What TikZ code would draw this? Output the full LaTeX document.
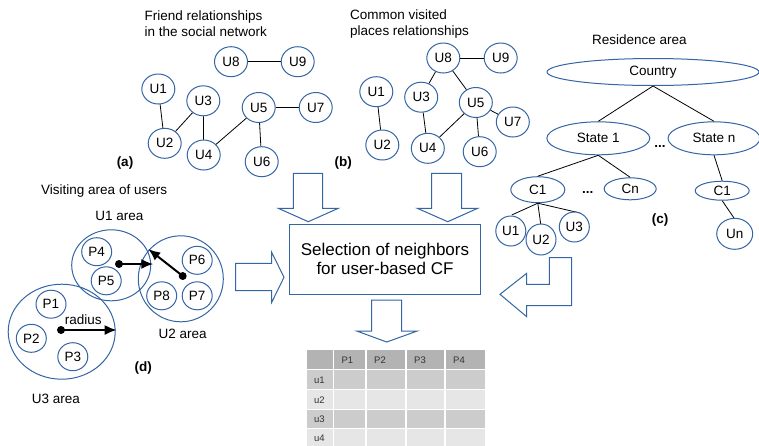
\documentclass[tikz,border=0pt]{standalone}
\usepackage{fontspec}
\setmainfont{Liberation Sans}
\usetikzlibrary{shapes.geometric,arrows.meta}
\definecolor{lblue}{RGB}{52,101,164}
\definecolor{thdr}{RGB}{179,179,179}
\definecolor{tdark}{RGB}{204,204,204}
\definecolor{tlight}{RGB}{230,230,230}
\definecolor{ttext}{RGB}{51,51,51}
\begin{document}
\begin{tikzpicture}[x=1pt,y=-1pt,
  every node/.style={font=\fontsize{13.5}{16}\selectfont},
  usr/.style={ellipse,draw=lblue,line width=1pt,fill=white,inner sep=0pt,minimum width=33pt,minimum height=30pt},
  plc/.style={ellipse,draw=lblue,line width=1pt,fill=white,inner sep=0pt,minimum width=30pt,minimum height=28pt},
  area/.style={ellipse,draw=lblue,line width=1pt,inner sep=0pt},
  reg/.style={ellipse,draw=lblue,line width=1pt,fill=white,inner sep=0pt},
  edge/.style={draw=black,line width=0.8pt},
  blockarrow/.style={draw=lblue,line width=1pt,fill=white,line join=miter},
  lbl/.style={font=\fontsize{13.5}{16}\selectfont\bfseries},
  dotn/.style={circle,fill=black,inner sep=0pt,minimum size=8pt},
  radarrow/.style={line width=2pt,-{Latex[length=12pt,width=10pt]}},
  tcell/.style={draw=white,line width=1.5pt},
  ttxt/.style={font=\fontsize{9.5}{11}\selectfont,text=ttext,anchor=west,inner sep=0pt}
]
\useasboundingbox (0,0) rectangle (759,445);
\clip (0,0) rectangle (759,445);

% ---------- (a) ----------
\node[anchor=west,align=left] (ta) at (141,24) {Friend relationships\\in the social network};
\node[usr] (a8) at (231,61.7) {U8};
\node[usr] (a9) at (297.7,61.7) {U9};
\node[usr] (a1) at (158.3,89) {U1};
\node[usr] (a3) at (203.3,100.8) {U3};
\node[usr] (a5) at (258.7,107.5) {U5};
\node[usr] (a7) at (315.7,107.5) {U7};
\node[usr] (a2) at (164.7,143.3) {U2};
\node[usr] (a4) at (203.7,155) {U4};
\node[usr] (a6) at (261.7,161.7) {U6};
\node[lbl] (la) at (125,162.7) {(a)};
\draw[edge] (a8) -- (a9);
\draw[edge] (a1) -- (a2);
\draw[edge] (a2) -- (a3);
\draw[edge] (a3) -- (a4);
\draw[edge] (a4) -- (a5);
\draw[edge] (a5) -- (a7);
\draw[edge] (a5) -- (a6);

% ---------- (b) ----------
\node[anchor=west,align=left] (tb) at (346.7,24) {Common visited\\places relationships};
\node[usr] (b8) at (443.3,58) {U8};
\node[usr] (b9) at (500.7,58) {U9};
\node[usr] (b1) at (376.3,91.7) {U1};
\node[usr] (b3) at (421.2,97.2) {U3};
\node[usr] (b5) at (475.8,102.5) {U5};
\node[usr] (b7) at (512.8,122) {U7};
\node[usr] (b2) at (382.3,145) {U2};
\node[usr] (b4) at (427.8,148.3) {U4};
\node[usr] (b6) at (479.7,151.7) {U6};
\node[lbl] (lb) at (343.3,162.7) {(b)};
\draw[edge] (b8) -- (b9);
\draw[edge] (b8) -- (b3);
\draw[edge] (b8) -- (b5);
\draw[edge] (b1) -- (b2);
\draw[edge] (b3) -- (b4);
\draw[edge] (b4) -- (b5);
\draw[edge] (b5) -- (b7);
\draw[edge] (b5) -- (b6);

% ---------- (c) ----------
\node (tc) at (639.3,40) {Residence area};
\node[reg,minimum width=212pt,minimum height=27pt] (cty) at (653,72) {Country};
\node[reg,minimum width=103pt,minimum height=33pt] (st1) at (598.3,138.3) {State 1};
\node[reg,minimum width=92pt,minimum height=33pt] (stn) at (714,138.3) {State n};
\node[lbl] (dd1) at (660,146) {...};
\node[reg,minimum width=54pt,minimum height=26pt] (c1) at (537.8,189.7) {C1};
\node[lbl] (dd2) at (587.7,192) {...};
\node[reg,minimum width=52pt,minimum height=22pt] (cn) at (630.2,188.8) {Cn};
\node[reg,minimum width=54pt,minimum height=19pt] (c1r) at (722.2,190.7) {C1};
\node[lbl] (lc) at (660,220) {(c)};
\draw[edge] (cty.south) -- (st1.north);
\draw[edge] (cty.south) -- (stn.north);
\draw[edge] (st1.south) -- (c1.north);
\draw[edge] (st1.south) -- (cn.north);
\draw[edge] (stn.south) -- (c1r.north);
\draw[edge] (c1.south) -- (511.7,215) coordinate (e1);
\draw[edge] (c1.south) -- (540.7,224) coordinate (e2);
\draw[edge] (c1.south) -- (580,213) coordinate (e3);
\draw[edge] (c1r.south) -- (734,218) coordinate (e4);
\node[usr,minimum width=30pt] (cu1) at (510.8,231) {U1};
\node[usr,minimum width=30pt,minimum height=31pt] (cu2) at (541,239.5) {U2};
\node[usr,minimum width=30pt] (cu3) at (574.3,227) {U3};
\node[usr,minimum width=36pt,minimum height=31pt] (cun) at (734.7,233.8) {Un};

% ---------- (d) ----------
\node[anchor=west] (td) at (37.7,190.7) {Visiting area of users};
\node (tu1) at (119.3,215.7) {U1 area};
\node[area,minimum width=107pt,minimum height=95pt] (ar3) at (61.7,331.7) {};
\node[area,minimum width=79pt,minimum height=71pt] (ar1) at (111.2,265.3) {};
\node[area,minimum width=85pt,minimum height=86pt] (ar2) at (180.8,278.8) {};
\node[plc] (p4) at (96.7,251.7) {P4};
\node[plc] (p5) at (106.2,280.8) {P5};
\node[plc] (p6) at (197.2,260.3) {P6};
\node[plc] (p8) at (161.7,295.8) {P8};
\node[plc] (p7) at (197.2,295.8) {P7};
\node[plc] (p1) at (51,304.2) {P1};
\node[plc] (p2) at (31.3,338.3) {P2};
\node[plc] (p3) at (72.8,356.7) {P3};
\node (trad) at (83.3,319.3) {radius};
\node[dotn] (d1) at (119,264) {};
\node[dotn] (d2) at (182.7,276) {};
\node[dotn] (d3) at (61,330) {};
\coordinate (r1) at (153.3,264);
\coordinate (r2) at (148.3,249);
\coordinate (r3) at (116.7,330);
\draw[radarrow] (d1.center) -- (r1);
\draw[radarrow] (d2.center) -- (r2);
\draw[radarrow] (d3.center) -- (r3);
\node (tu2) at (182.7,334.3) {U2 area};
\node[lbl] (ld) at (143.3,367.7) {(d)};
\node (tu3) at (56,399) {U3 area};

% ---------- centre box and block arrows ----------
\node[draw=lblue,line width=1pt,minimum width=191.4pt,minimum height=69.7pt,align=center,
  font=\fontsize{17}{18.6}\selectfont] (sel) at (385,259.2) {Selection of neighbors\\for user-based CF};
\draw[blockarrow] (293.3,173.3) -- (322.7,173.3) -- (322.7,208.3) -- (338.3,208.3) -- (308.3,221.7) -- (278.3,208.3) -- (293.3,208.3) -- cycle;
\draw[blockarrow] (431.7,173.3) -- (461.7,173.3) -- (461.7,208.3) -- (477.7,208.3) -- (447.7,221.7) -- (417.3,208.3) -- (431.7,208.3) -- cycle;
\draw[blockarrow] (235.7,263.3) -- (271.7,263.3) -- (271.7,252.3) -- (284,277.3) -- (271.7,302.3) -- (271.7,290.7) -- (235.7,290.7) -- cycle;
\draw[blockarrow] (549.3,257.7) -- (571.7,257.7) -- (571.7,305.7) -- (526.7,305.7) -- (526.7,316.7) -- (500,294.3) -- (526.7,273.3) -- (526.7,284.3) -- (549.3,284.3) -- cycle;
\draw[blockarrow] (371.7,300) -- (401.7,300) -- (401.7,331) -- (417.3,331) -- (386.7,342) -- (356.7,331) -- (371.7,331) -- cycle;

% ---------- table ----------
\foreach \ya/\yb/\cc in {349.3/369.3/thdr, 369.3/389.3/tdark, 389.3/409.3/tlight, 409.3/428.3/tdark, 428.3/448/tlight}{
  \foreach \xa/\xb in {306/333.3, 333.3/366, 366/406, 406/445, 445/486}{
    \path[tcell,fill=\cc] (\xa,\ya) rectangle (\xb,\yb);
  }
}
\node[ttxt] (h1) at (341.3,359.8) {P1};
\node[ttxt] (h2) at (374,359.8) {P2};
\node[ttxt] (h3) at (414,359.8) {P3};
\node[ttxt] (h4) at (453,359.8) {P4};
\node[ttxt] (r1t) at (314,379.8) {u1};
\node[ttxt] (r2t) at (314,399.8) {u2};
\node[ttxt] (r3t) at (314,419.3) {u3};
\node[ttxt] (r4t) at (314,438.5) {u4};
\end{tikzpicture}
\end{document}
